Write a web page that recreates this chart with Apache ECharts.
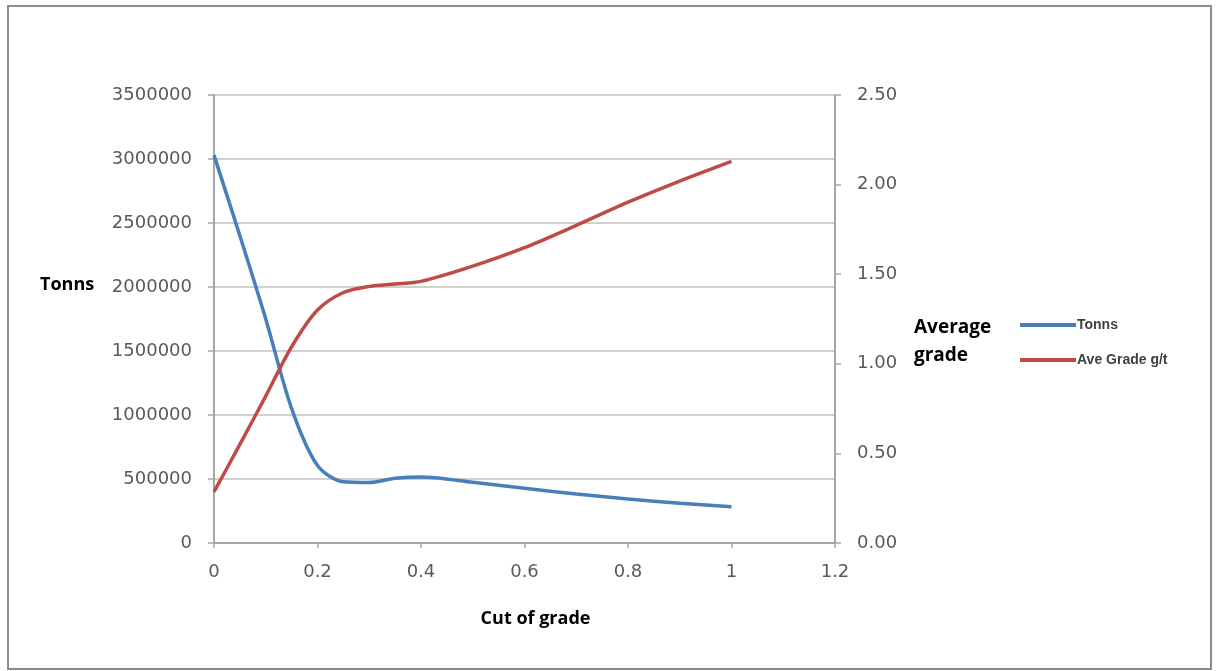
<!DOCTYPE html>
<html>
<head>
<meta charset="utf-8">
<script src="https://cdn.jsdelivr.net/npm/echarts@6/dist/echarts.min.js"></script>
<style>
html,body{margin:0;padding:0;background:#fff;}
#chart{width:1216px;height:671px;}
</style>
</head>
<body>
<div id="chart"></div>
<script>
// Cut-off grade values (x)
var cutOff = [0, 0.05, 0.1, 0.15, 0.2, 0.25, 0.3, 0.35, 0.4, 0.5, 0.6, 0.7, 0.8, 0.9, 1.0];
// Tonns series (left axis)
var tonns = [3030000, 2400000, 1750000, 1050000, 605000, 478000, 472000, 505000, 515000, 474000, 427000, 383000, 343000, 310000, 283000];
// Average grade g/t series (right axis)
var aveGrade = [0.285, 0.55, 0.82, 1.095, 1.3, 1.398, 1.432, 1.445, 1.46, 1.545, 1.648, 1.772, 1.902, 2.02, 2.13];

var seriesNames = ['Tonns', 'Ave Grade g/t'];
var xAxisTitle = 'Cut of grade';
var leftTitle = 'Tonns';
var rightTitle = ['Average', 'grade'];

function pairs(xs, ys) { return xs.map(function (x, i) { return [x, ys[i]]; }); }

var labelFont = { color: '#595959', fontSize: 18, fontFamily: 'DejaVu Sans' };
var chart = echarts.init(document.getElementById('chart'), null, { renderer: 'canvas' });
chart.setOption({
  backgroundColor: '#ffffff',
  animation: false,
  grid: { left: 214, right: 381, top: 95, bottom: 128, containLabel: false },
  legend: {
    orient: 'vertical',
    left: 1015,
    top: 313,
    itemWidth: 56,
    itemHeight: 4,
    itemGap: 21,
    icon: 'rect',
    textStyle: { color: '#404040', fontSize: 14, fontWeight: 'bold', fontFamily: 'Liberation Sans', padding: [0, 0, 0, -4] },
    data: seriesNames
  },
  xAxis: {
    type: 'value',
    min: 0, max: 1.2, interval: 0.2,
    name: xAxisTitle,
    nameLocation: 'middle',
    nameGap: 67,
    nameTextStyle: { color: '#000', fontSize: 18, fontWeight: 'bold', fontFamily: 'Open Sans', padding: [0, 0, 0, 22] },
    axisLine: { show: true, onZero: false, lineStyle: { color: '#a6a6a6', width: 2 } },
    axisTick: { show: true, length: 5, lineStyle: { color: '#a6a6a6', width: 1.5 } },
    axisLabel: Object.assign({ margin: 20, formatter: function (v) { return String(+v.toFixed(1)); } }, labelFont),
    splitLine: { show: false }
  },
  yAxis: [{
    type: 'value',
    min: 0, max: 3500000, interval: 500000,
    position: 'left',
    axisLine: { show: true, lineStyle: { color: '#a6a6a6', width: 2 } },
    axisTick: { show: true, length: 6, lineStyle: { color: '#a6a6a6', width: 1.5 } },
    axisLabel: Object.assign({ margin: 22, formatter: function (v) { return String(v); } }, labelFont),
    splitLine: { show: true, lineStyle: { color: '#d0d0d0', width: 2 } }
  }, {
    type: 'value',
    min: 0, max: 2.5, interval: 0.5,
    position: 'right',
    axisLine: { show: true, lineStyle: { color: '#a6a6a6', width: 2 } },
    axisTick: { show: true, length: 6, lineStyle: { color: '#a6a6a6', width: 1.5 } },
    axisLabel: Object.assign({ margin: 22, formatter: function (v) { return v.toFixed(2); } }, labelFont),
    splitLine: { show: false }
  }],
  series: [{
    name: seriesNames[0],
    type: 'line',
    yAxisIndex: 0,
    smooth: 0.3,
    showSymbol: false,
    lineStyle: { color: '#4a7ebb', width: 3.5 },
    itemStyle: { color: '#4a7ebb' },
    data: pairs(cutOff, tonns)
  }, {
    name: seriesNames[1],
    type: 'line',
    yAxisIndex: 1,
    smooth: 0.3,
    showSymbol: false,
    lineStyle: { color: '#be4b48', width: 3.5 },
    itemStyle: { color: '#be4b48' },
    data: pairs(cutOff, aveGrade)
  }],
  graphic: [{
    type: 'rect',
    shape: { x: 8, y: 6, width: 1203, height: 663 },
    style: { fill: 'none', stroke: '#8c8c8c', lineWidth: 2 },
    silent: true
  }, {
    type: 'text',
    left: 40, top: 276,
    style: { text: leftTitle, fill: '#000', font: 'bold 18px "Open Sans"' }
  }, {
    type: 'text',
    left: 914, top: 314,
    style: { text: rightTitle.join('\n'), fill: '#000', font: 'bold 19px "Open Sans"', lineHeight: 28 }
  }]
});
</script>
</body>
</html>
